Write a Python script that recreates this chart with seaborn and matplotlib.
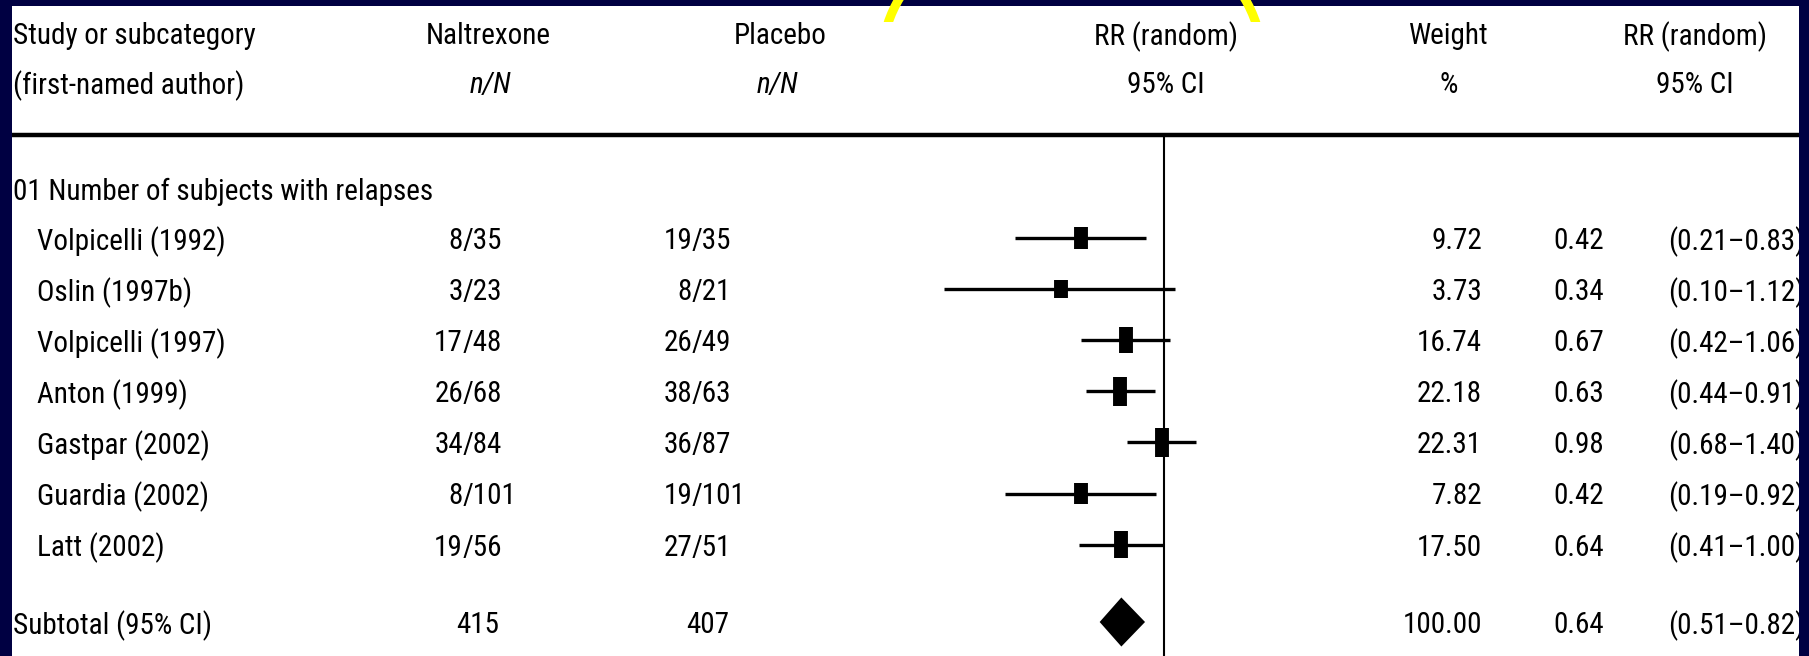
import matplotlib
matplotlib.use('Agg')
import matplotlib.pyplot as plt
from matplotlib import font_manager
from matplotlib.patches import Rectangle, Arc
from matplotlib.transforms import blended_transform_factory
import seaborn as sns
import pandas as pd

# data
studies = ['Volpicelli (1992)', 'Oslin (1997b)', 'Volpicelli (1997)', 'Anton (1999)',
           'Gastpar (2002)', 'Guardia (2002)', 'Latt (2002)']
nal_n = [8, 3, 17, 26, 34, 8, 19]
nal_N = [35, 23, 48, 68, 84, 101, 56]
pla_n = [19, 8, 26, 38, 36, 19, 27]
pla_N = [35, 21, 49, 63, 87, 101, 51]
weight = [9.72, 3.73, 16.74, 22.18, 22.31, 7.82, 17.50]
rr = [0.42, 0.34, 0.67, 0.63, 0.98, 0.42, 0.64]
ci_lo = [0.21, 0.10, 0.42, 0.44, 0.68, 0.19, 0.41]
ci_hi = [0.83, 1.12, 1.06, 0.91, 1.40, 0.92, 1.00]

subgroup = '01 Number of subjects with relapses'
total_nal = 415
total_pla = 407
total_weight = 100.00
total_rr = 0.64
total_lo = 0.51
total_hi = 0.82

W, H = 1809, 656
NAVY = '#000042'

# a condensed face if there is one, else the narrowest plain one
installed = {f.name for f in font_manager.fontManager.ttflist}
FACE, FS = 'DejaVu Sans', 16
for name, size in [('Liberation Sans Narrow', 21), ('Roboto Condensed', 21),
                   ('Open Sans Condensed', 21), ('Roboto', 19), ('Liberation Sans', 18)]:
    if name in installed:
        FACE, FS = name, size
        break
FONT = [FACE, 'DejaVu Sans']

# layout in pixels
ROW0 = 238
STEP = 51.1


def row(px):
    return (px - ROW0) / STEP


sns.set_theme(style='white')
plt.rcParams['font.family'] = FONT

fig = plt.figure(figsize=(W / 100, H / 100), dpi=100, facecolor=NAVY)
fig.add_artist(Rectangle((12 / W, 0), (1799 - 12) / W, (H - 6) / H,
                         transform=fig.transFigure, facecolor='white',
                         edgecolor='none', zorder=-1))

ax = fig.add_axes([0, 0, 1, 1])
ax.set_facecolor('none')

# confidence intervals
ci_df = pd.DataFrame({
    'study': studies * 2,
    'rr': ci_lo + ci_hi,
    'row': list(range(len(studies))) * 2,
})
sns.lineplot(data=ci_df, x='rr', y='row', units='study', estimator=None, sort=False,
             color='black', linewidth=2.4, legend=False, ax=ax, solid_capstyle='butt')

# study boxes, height grows with weight
box_h = [(16 + 0.6 * w) / STEP for w in weight]
rows = list(range(len(studies)))
ax.vlines(rr, [r - h / 2 for r, h in zip(rows, box_h)], [r + h / 2 for r, h in zip(rows, box_h)],
          colors='black', linewidth=10, capstyle='butt', zorder=3)

# pooled diamond
sub_r = row(622)
ax.fill([total_lo, total_rr, total_hi, total_rr],
        [sub_r, sub_r - 0.48, sub_r, sub_r + 0.48], color='black', lw=0, zorder=3)

ax.set_xscale('log')
ax.set_xlim(10 ** (-1164 / 220), 10 ** ((W - 1164) / 220))
ax.set_ylim(row(H), row(0))
ax.axis('off')

# line of no effect and header rule
rule_r = row(135)
ax.vlines(1, rule_r, row(H), colors='black', linewidth=1.5)
tr = blended_transform_factory(ax.transAxes, ax.transData)
ax.plot([12 / W, 1799 / W], [rule_r, rule_r], transform=tr, color='black',
        linewidth=3.2, solid_capstyle='butt')


def txt(x, y, s, ha='left', **kw):
    ax.text(x / W, y, s, transform=tr, ha=ha, va='center_baseline',
            fontsize=FS, color='black', **kw)


# header
h1, h2 = row(33), row(82)
txt(13, h1, 'Study or subcategory')
txt(13, h2, '(first-named author)')
txt(488, h1, 'Naltrexone', ha='center')
txt(490, h2, 'n/N', ha='center', style='italic')
txt(780, h1, 'Placebo', ha='center')
txt(777, h2, 'n/N', ha='center', style='italic')
txt(1166, h1, 'RR (random)', ha='center')
txt(1166, h2, '95% CI', ha='center')
txt(1449, h1, 'Weight', ha='center')
txt(1449, h2, '%', ha='center')
txt(1695, h1, 'RR (random)', ha='center')
txt(1695, h2, '95% CI', ha='center')

txt(13, row(189), subgroup)

NAL_SPLIT, PLA_SPLIT = 463, 692
for i, name in enumerate(studies):
    txt(37, i, name)
    txt(NAL_SPLIT, i, str(nal_n[i]), ha='right')
    txt(NAL_SPLIT, i, '/' + str(nal_N[i]))
    txt(PLA_SPLIT, i, str(pla_n[i]), ha='right')
    txt(PLA_SPLIT, i, '/' + str(pla_N[i]))
    txt(1482, i, f'{weight[i]:.2f}', ha='right')
    txt(1604, i, f'{rr[i]:.2f}', ha='right')
    txt(1668, i, f'({ci_lo[i]:.2f}\u2013{ci_hi[i]:.2f})')

txt(13, sub_r, 'Subtotal (95% CI)')
txt(NAL_SPLIT + 36, sub_r, str(total_nal), ha='right')
txt(PLA_SPLIT + 37, sub_r, str(total_pla), ha='right')
txt(1482, sub_r, f'{total_weight:.2f}', ha='right')
txt(1604, sub_r, f'{total_rr:.2f}', ha='right')
txt(1668, sub_r, f'({total_lo:.2f}\u2013{total_hi:.2f})')

# navy frame edge over the right side
fig.add_artist(Rectangle((1799 / W, 0), 10 / W, 1, transform=fig.transFigure,
                         facecolor=NAVY, edgecolor='none', zorder=10))

# yellow highlight ring, only its top edge is visible
clip = Rectangle((0, 1 - 22 / H), 1, 22 / H, transform=fig.transFigure)
ring = Arc((1072 / W, 1 - 60 / H), 380 / W, 295 / H, transform=fig.transFigure,
           color='#FFFF00', linewidth=6.5, zorder=11)
fig.add_artist(ring)
ring.set_clip_path(clip)

fig.savefig('out.png', dpi=100, facecolor=NAVY)
